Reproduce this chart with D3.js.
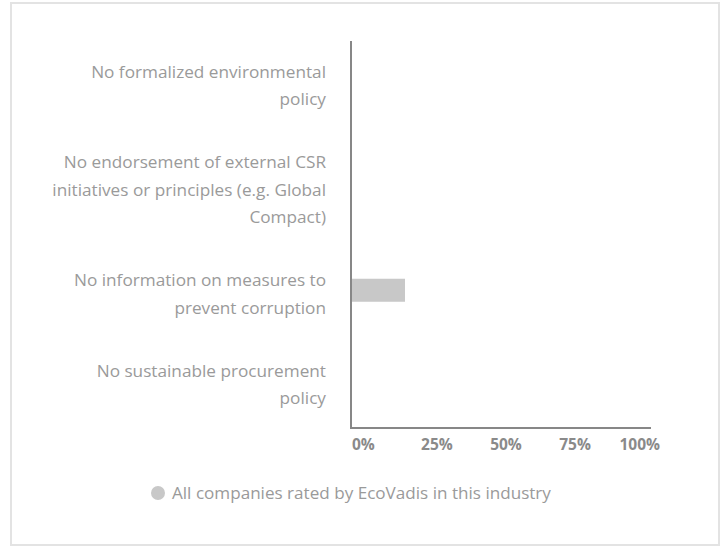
<!DOCTYPE html>
<html>
<head>
<meta charset="utf-8">
<script src="https://cdn.jsdelivr.net/npm/d3@7"></script>
<style>
  html, body { margin: 0; padding: 0; background: #fff; }
  svg { display: block; font-family: "Open Sans", sans-serif; }
</style>
</head>
<body>
<svg id="chart" width="725" height="547"></svg>
<script>
// ---- data ----
const categories = [
  "No formalized environmental\npolicy",
  "No endorsement of external CSR\ninitiatives or principles (e.g. Global\nCompact)",
  "No information on measures to\nprevent corruption",
  "No sustainable procurement\npolicy"
];
const industryValues = [0, 0, 18, 0];
const tickValues = [0, 25, 50, 75, 100];
const tickLabels = ["0%", "25%", "50%", "75%", "100%"];
const seriesName = "All companies rated by EcoVadis in this industry";

// ---- layout ----
const svg = d3.select("#chart");

// outer frame
svg.append("rect")
  .attr("x", 11).attr("y", 3)
  .attr("width", 708).attr("height", 542)
  .attr("fill", "#fff")
  .attr("stroke", "#e3e3e3").attr("stroke-width", 2);

const plot = { left: 351, right: 651, top: 41, bottom: 428 };
const x = d3.scaleLinear().domain([0, 100]).range([plot.left, plot.right]);
// tick label placement scale (labels shift left by p% of their own width)
const xLabel = d3.scaleLinear().domain([0, 100]).range([352, 660]);

// category label blocks stacked vertically
const lineH = 27.5, blockGap = 35.5, firstBaseline = 77.5;
const blocks = [];
let yb = firstBaseline;
categories.forEach((c) => {
  const lines = c.split("\n");
  const baselines = lines.map((_, j) => yb + j * lineH);
  blocks.push({ cat: c, lines, baselines });
  yb = baselines[baselines.length - 1] + lineH + blockGap;
});
const centers = blocks.map(b => d3.mean(b.baselines) - 9.5);
const y = d3.scaleOrdinal().domain(categories).range(centers);
const barH = 23;

// category labels
const labelG = svg.append("g");
blocks.forEach(b => {
  const t = labelG.append("text")
    .attr("text-anchor", "end")
    .attr("fill", "#9a9a9a")
    .attr("font-size", 17.2);
  b.lines.forEach((ln, j) => {
    t.append("tspan").attr("x", 326).attr("y", b.baselines[j]).text(ln);
  });
});

// bars
svg.append("g").selectAll("rect")
  .data(categories.map((c, i) => ({ c, v: industryValues[i] })))
  .join("rect")
  .attr("x", x(0))
  .attr("y", d => y(d.c) - barH / 2)
  .attr("width", d => x(d.v) - x(0))
  .attr("height", barH)
  .attr("fill", "#c8c8c8");

// axes lines
svg.append("line")
  .attr("x1", plot.left).attr("x2", plot.left)
  .attr("y1", plot.top).attr("y2", plot.bottom + 1)
  .attr("stroke", "#878787").attr("stroke-width", 2);
svg.append("line")
  .attr("x1", plot.left - 1).attr("x2", plot.right)
  .attr("y1", plot.bottom).attr("y2", plot.bottom)
  .attr("stroke", "#878787").attr("stroke-width", 2);

// tick labels
const tickG = svg.append("g");
tickValues.forEach((v, i) => {
  const t = tickG.append("text")
    .attr("y", 450)
    .attr("fill", "#8a8a8a")
    .attr("font-size", 15.5)
    .attr("font-weight", "bold")
    .text(tickLabels[i]);
  const w = t.node().getComputedTextLength();
  t.attr("x", xLabel(v) - (v / 100) * w);
});

// legend
const leg = svg.append("g");
leg.append("circle").attr("cx", 158).attr("cy", 493).attr("r", 7).attr("fill", "#c8c8c8");
leg.append("text").attr("x", 172).attr("y", 499)
  .attr("fill", "#9a9a9a").attr("font-size", 17.1)
  .text(seriesName);
</script>
</body>
</html>
